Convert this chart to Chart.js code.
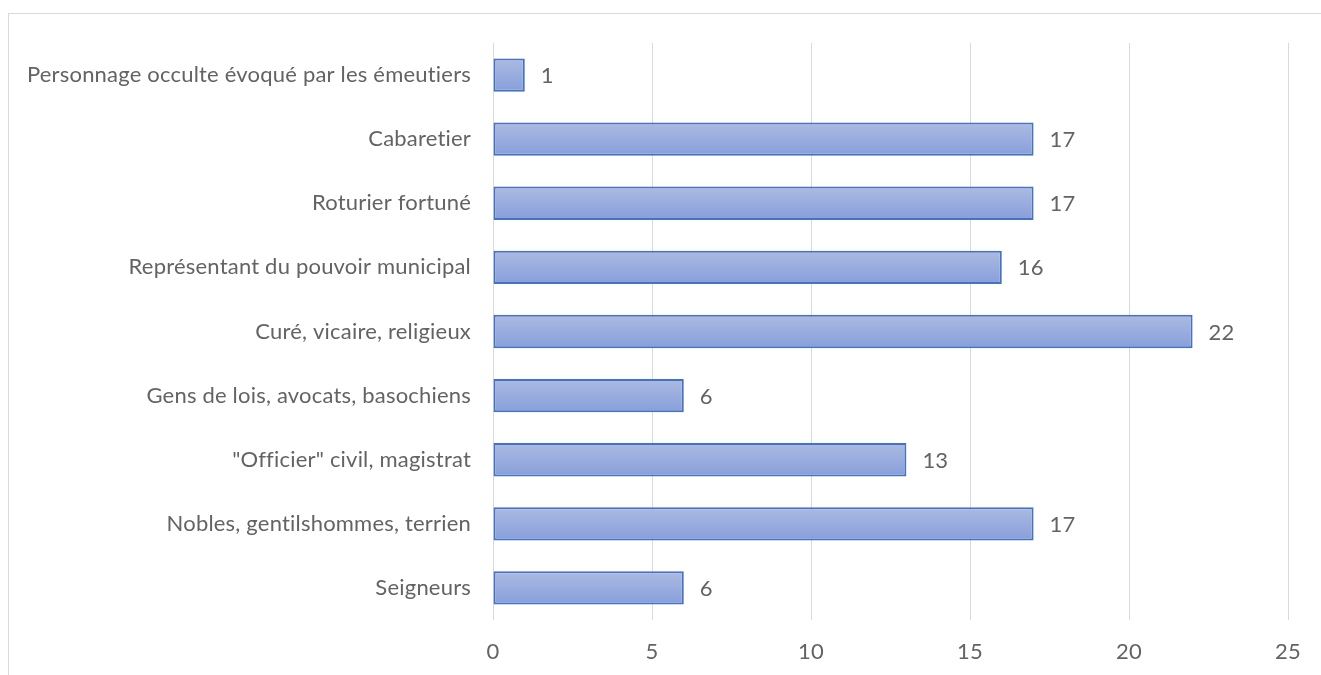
<!DOCTYPE html>
<html>
<head>
<meta charset="utf-8">
<script src="https://cdn.jsdelivr.net/npm/chart.js@4/dist/chart.umd.min.js"></script>
<style>
  html, body { margin: 0; padding: 0; background: #fff; overflow: hidden; }
  #wrap { position: relative; width: 1321px; height: 675px; }
  #frame { position: absolute; left: 8px; top: 13px; width: 1400px; height: 800px; border: 1.5px solid #d9d9d9; box-sizing: border-box; }
  canvas { position: absolute; left: 0; top: 0; }
</style>
</head>
<body>
<div id="wrap">
  <div id="frame"></div>
  <canvas id="c" width="1321" height="675"></canvas>
</div>
<script>
const categories = [
  "Personnage occulte évoqué par les émeutiers",
  "Cabaretier",
  "Roturier fortuné",
  "Représentant du pouvoir municipal",
  "Curé, vicaire, religieux",
  "Gens de lois, avocats, basochiens",
  "\"Officier\" civil, magistrat",
  "Nobles, gentilshommes, terrien",
  "Seigneurs"
];
const values = [1, 17, 17, 16, 22, 6, 13, 17, 6];
const xTicks = [0, 5, 10, 15, 20, 25];

const FONT = "Lato, 'Open Sans', sans-serif";
const TEXT = "#636363";
const FSIZE = 22;

const spacing = {
  id: 'spacing',
  beforeDraw(chart) { chart.ctx.letterSpacing = '0.2px'; }
};

const dataLabels = {
  id: 'dataLabels',
  afterDatasetsDraw(chart) {
    const ctx = chart.ctx;
    const meta = chart.getDatasetMeta(0);
    ctx.save();
    ctx.font = FSIZE + "px " + FONT;
    ctx.fillStyle = TEXT;
    ctx.textAlign = 'left';
    ctx.textBaseline = 'middle';
    meta.data.forEach((bar, i) => {
      ctx.fillText(String(values[i]), bar.x + 16, bar.y + 1);
    });
    ctx.restore();
  }
};

function barGradient(context) {
  const chart = context.chart;
  const ys = chart.scales.y;
  if (!chart.chartArea || !ys || context.dataIndex === undefined) return '#9aaddd';
  const yc = ys.getPixelForValue(context.dataIndex);
  const half = ys.height / categories.length / 4;
  const g = chart.ctx.createLinearGradient(0, yc - half, 0, yc + half);
  g.addColorStop(0, '#abbae2');
  g.addColorStop(1, '#889fda');
  return g;
}

new Chart(document.getElementById('c'), {
  type: 'bar',
  data: {
    labels: categories,
    datasets: [{
      data: values,
      backgroundColor: barGradient,
      borderColor: '#4472c4',
      borderWidth: 2,
      borderSkipped: false,
      categoryPercentage: 1.0,
      barPercentage: 0.52
    }]
  },
  options: {
    indexAxis: 'y',
    responsive: false,
    animation: false,
    devicePixelRatio: 1,
    layout: { padding: { left: 0, right: 33, top: 43, bottom: 0 } },
    plugins: { legend: { display: false }, tooltip: { enabled: false } },
    scales: {
      x: {
        type: 'linear',
        min: 0, max: 25,
        afterBuildTicks(scale) { scale.ticks = xTicks.map(v => ({ value: v })); },
        afterFit(scale) { scale.height = 55; },
        grid: { color: '#d9d9d9', lineWidth: 1, drawTicks: false },
        border: { display: false },
        ticks: { color: TEXT, font: { family: FONT, size: FSIZE }, padding: 19 }
      },
      y: {
        afterFit(scale) { scale.width = 493; },
        grid: { display: false, drawTicks: false },
        border: { display: false },
        ticks: { color: TEXT, font: { family: FONT, size: FSIZE }, padding: 22, autoSkip: false }
      }
    }
  },
  plugins: [spacing, dataLabels]
});
</script>
</body>
</html>
